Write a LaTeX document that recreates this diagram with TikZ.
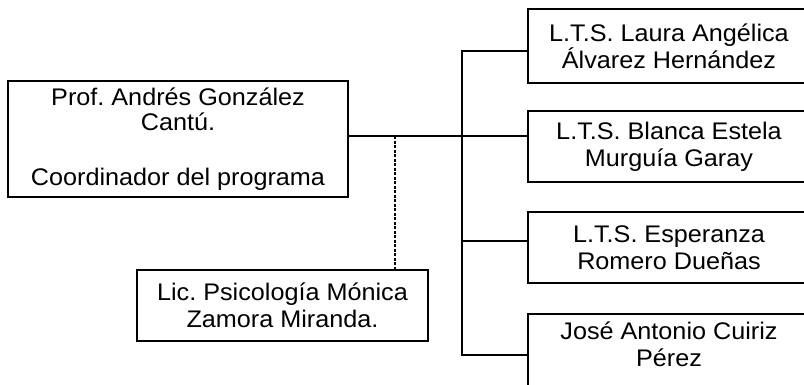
\documentclass[tikz,border=0pt]{standalone}
\usepackage{fontspec}
\setmainfont{Liberation Sans}[FakeStretch=1.05]
\frenchspacing
\begin{document}
\begin{tikzpicture}[x=1pt,y=-1pt,
  box/.style={draw, line width=1.3pt, align=center, inner sep=0pt,
    font=\fontsize{24}{27}\selectfont\frenchspacing},
  txt/.style={align=center, inner sep=0pt, font=\fontsize{24}{27}\selectfont\frenchspacing},
  conn/.style={line width=1.3pt},
  dconn/.style={line width=1.2pt, dash pattern=on 3pt off 1.5pt}]
\useasboundingbox (0,0) rectangle (804,384);
\clip (0,0) rectangle (804,384);
\node[box, minimum width=340, minimum height=116] (coord) at (178,139)
  {Prof. Andrés González\\[-2pt]Cantú.\\[28pt]Coordinador del programa};
\node[box, minimum width=291, minimum height=71] (psi) at (282.5,305.5)
  {Lic. Psicología Mónica\\Zamora Miranda.};
\node[box, minimum width=282, minimum height=74] (b1) at (669,46)
  {L.T.S. Laura Angélica\\Álvarez Hernández};
\node[box, minimum width=282, minimum height=71] (b2) at (669,146.5)
  {L.T.S. Blanca Estela\\Murguía Garay};
\node[box, minimum width=282, minimum height=71] (b3) at (669,247.5)
  {L.T.S. Esperanza\\Romero Dueñas};
\node[box, minimum width=282, minimum height=90] (b4) at (669,359) {};
\node[txt] (b4t) at (669,344) {José Antonio Cuiriz\\Pérez};
\coordinate (j) at (462,136);
\coordinate (vt) at (462,51);
\coordinate (vb) at (462,355);
\coordinate (d) at (395,136);
\draw[conn] (coord.east |- j) -- (b2.west |- j);
\draw[conn] (b1.west |- vt) -- (vt) -- (vb) -- (b4.west |- vb);
\draw[conn] (vt |- 0,241) -- (b3.west |- 0,241);
\draw[dconn] (d) -- (psi.north -| d);
\end{tikzpicture}
\end{document}
